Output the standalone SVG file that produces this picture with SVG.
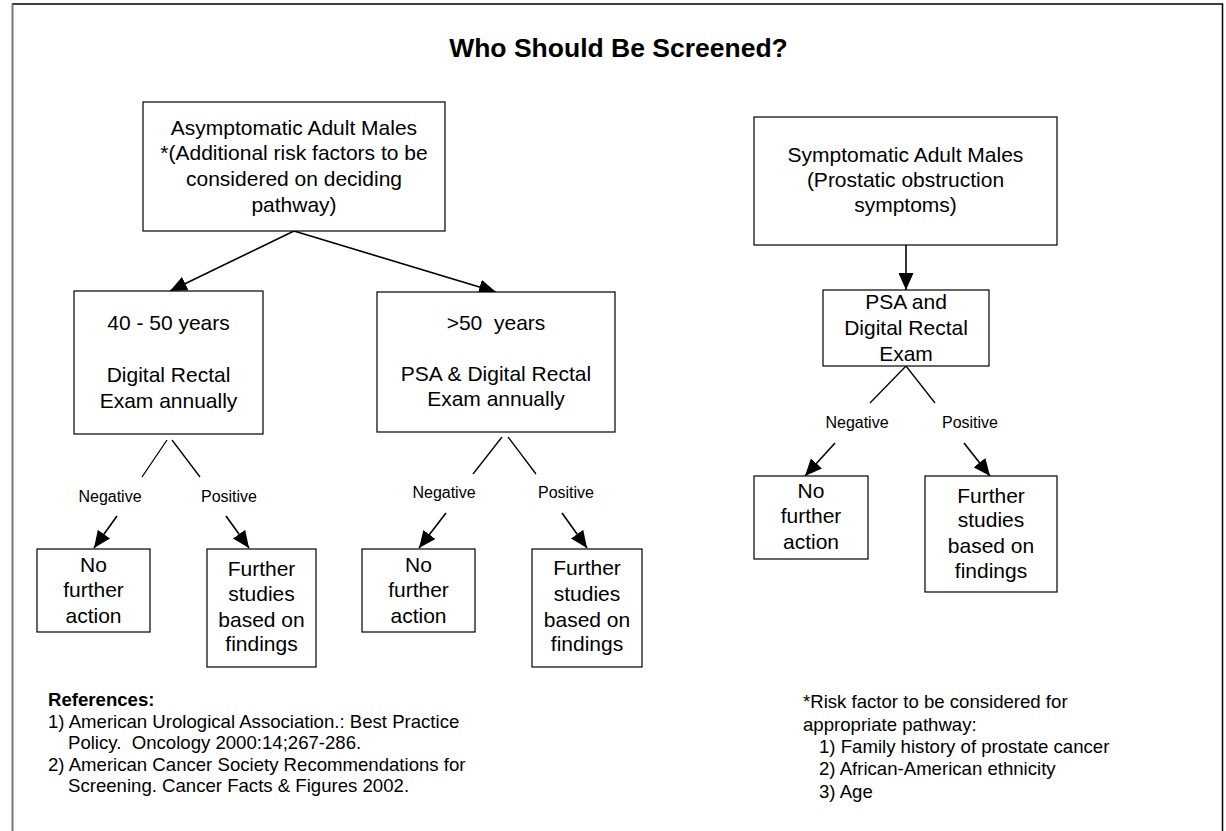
<svg xmlns="http://www.w3.org/2000/svg" width="1226" height="831" viewBox="0 0 1226 831">
<defs>
<style>
.box{fill:#fff;stroke:#000;stroke-width:1.2}
.t{font-family:"Liberation Sans",Arial,sans-serif;font-size:21px;fill:#000;text-anchor:middle}
.lbl{font-family:"Liberation Sans",Arial,sans-serif;font-size:16px;fill:#000;text-anchor:middle}
.note{font-family:"Liberation Sans",Arial,sans-serif;font-size:18.6px;fill:#000}
.title{font-family:"Liberation Sans",Arial,sans-serif;font-size:26.5px;font-weight:bold;fill:#000;text-anchor:middle}
.arr{stroke:#000;stroke-width:1.6;fill:none;marker-end:url(#ah)}
.split{stroke:#000;stroke-width:1.3;fill:none}
</style>
<marker id="ah" markerUnits="userSpaceOnUse" markerWidth="18" markerHeight="15" refX="17" refY="7.5" orient="auto">
<path d="M0,0 L17,7.5 L0,15 z" fill="#000"/>
</marker>
</defs>
<rect x="0" y="0" width="1226" height="831" fill="#fff"/>
<path d="M12,4 L1222.5,4 L1222.5,840" fill="none" stroke="#000" stroke-width="1.5"/>
<line x1="12.5" y1="4" x2="12.5" y2="840" stroke="#777" stroke-width="2"/>
<text class="title" x="618.5" y="57">Who Should Be Screened?</text>

<g id="connectors">
<line class="arr" x1="294" y1="231" x2="170" y2="291"/>
<line class="arr" x1="294" y1="231" x2="496" y2="292"/>
<line class="split" x1="167" y1="440" x2="142" y2="477"/>
<line class="split" x1="172" y1="440" x2="200" y2="477"/>
<line class="arr" x1="117" y1="516" x2="94" y2="548"/>
<line class="arr" x1="226" y1="516" x2="249" y2="548"/>
<line class="split" x1="502" y1="437" x2="473" y2="474"/>
<line class="split" x1="508" y1="437" x2="536" y2="474"/>
<line class="arr" x1="446" y1="513" x2="419" y2="548"/>
<line class="arr" x1="562" y1="513" x2="587" y2="548"/>
<line class="arr" x1="906" y1="245" x2="906" y2="290"/>
<line class="split" x1="906" y1="366" x2="870" y2="403"/>
<line class="split" x1="906" y1="366" x2="935" y2="403"/>
<line class="arr" x1="835" y1="443" x2="805" y2="476"/>
<line class="arr" x1="964" y1="443" x2="990" y2="476"/>
<text class="lbl" x="110" y="502">Negative</text>
<text class="lbl" x="229" y="502">Positive</text>
<text class="lbl" x="444" y="498">Negative</text>
<text class="lbl" x="566" y="498">Positive</text>
<text class="lbl" x="857" y="428">Negative</text>
<text class="lbl" x="970" y="428">Positive</text>
</g>

<g id="asymptomatic">
<rect class="box" x="143" y="102" width="302" height="129"/>
<text class="t" x="294" y="135">Asymptomatic Adult Males</text>
<text class="t" x="294" y="160">*(Additional risk factors to be</text>
<text class="t" x="294" y="186">considered on deciding</text>
<text class="t" x="294" y="212">pathway)</text>
</g>

<g id="age40-50">
<rect class="box" x="74" y="291" width="189" height="143"/>
<text class="t" x="168.5" y="330">40 - 50 years</text>
<text class="t" x="168.5" y="382">Digital Rectal</text>
<text class="t" x="168.5" y="408">Exam annually</text>
</g>

<g id="age50plus">
<rect class="box" x="377" y="292" width="238" height="140"/>
<text class="t" x="496" y="330">&gt;50&#160; years</text>
<text class="t" x="496" y="381">PSA &amp; Digital Rectal</text>
<text class="t" x="496" y="406">Exam annually</text>
</g>

<g id="left-no-action">
<rect class="box" x="37" y="549" width="113" height="83"/>
<text class="t" x="93.5" y="572">No</text>
<text class="t" x="93.5" y="597">further</text>
<text class="t" x="93.5" y="623">action</text>
</g>

<g id="left-further">
<rect class="box" x="207" y="549" width="109" height="118"/>
<text class="t" x="261.5" y="576">Further</text>
<text class="t" x="261.5" y="601">studies</text>
<text class="t" x="261.5" y="627">based on</text>
<text class="t" x="261.5" y="651">findings</text>
</g>

<g id="mid-no-action">
<rect class="box" x="362" y="549" width="113" height="83"/>
<text class="t" x="418.5" y="572">No</text>
<text class="t" x="418.5" y="597">further</text>
<text class="t" x="418.5" y="623">action</text>
</g>

<g id="mid-further">
<rect class="box" x="532" y="549" width="110" height="118"/>
<text class="t" x="587" y="575">Further</text>
<text class="t" x="587" y="601">studies</text>
<text class="t" x="587" y="627">based on</text>
<text class="t" x="587" y="651">findings</text>
</g>

<g id="symptomatic">
<rect class="box" x="754" y="117" width="303" height="128"/>
<text class="t" x="905.5" y="162">Symptomatic Adult Males</text>
<text class="t" x="905.5" y="187">(Prostatic obstruction</text>
<text class="t" x="905.5" y="212">symptoms)</text>
</g>

<g id="psa-dre">
<rect class="box" x="823" y="290" width="166" height="76"/>
<text class="t" x="906" y="309">PSA and</text>
<text class="t" x="906" y="335">Digital Rectal</text>
<text class="t" x="906" y="361">Exam</text>
</g>

<g id="right-no-action">
<rect class="box" x="754" y="476" width="114" height="83"/>
<text class="t" x="811" y="498">No</text>
<text class="t" x="811" y="523">further</text>
<text class="t" x="811" y="549">action</text>
</g>

<g id="right-further">
<rect class="box" x="925" y="476" width="132" height="116"/>
<text class="t" x="991" y="503">Further</text>
<text class="t" x="991" y="527">studies</text>
<text class="t" x="991" y="553">based on</text>
<text class="t" x="991" y="578">findings</text>
</g>

<g id="references">
<text class="note" x="48" y="706" font-weight="bold">References:</text>
<text class="note" x="48" y="728">1) American Urological Association.: Best Practice</text>
<text class="note" x="68" y="749">Policy.&#160; Oncology 2000:14;267-286.</text>
<text class="note" x="48" y="771">2) American Cancer Society Recommendations for</text>
<text class="note" x="68" y="792">Screening. Cancer Facts &amp; Figures 2002.</text>
</g>

<g id="risk-notes">
<text class="note" x="803" y="708">*Risk factor to be considered for</text>
<text class="note" x="803" y="731">appropriate pathway:</text>
<text class="note" x="819" y="753">1) Family history of prostate cancer</text>
<text class="note" x="819" y="775">2) African-American ethnicity</text>
<text class="note" x="819" y="798">3) Age</text>
</g>
</svg>
